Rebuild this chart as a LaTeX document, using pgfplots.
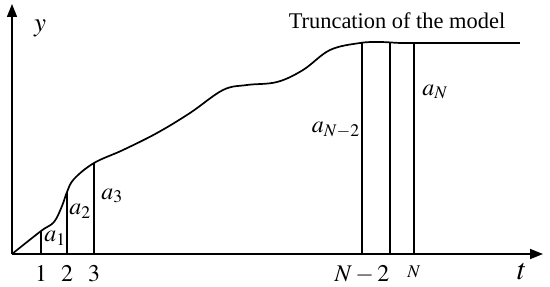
\documentclass[border=0pt]{standalone}
\usepackage{mathptmx}
\usepackage{fontspec}
\setmainfont{Liberation Serif}
\usepackage{pgfplots}
\pgfplotsset{compat=1.18}
\usetikzlibrary{arrows.meta}

\begin{document}
\begin{tikzpicture}
\begin{axis}[
  x=1bp, y=1bp,
  xmin=0, xmax=531, ymin=0, ymax=250,
  axis lines=left,
  axis line style={line width=1.7bp, -{Triangle[length=13bp,width=10bp]}},
  ytick=\empty,
  xtick={29,55,82,350,402},
  xticklabels={$1$,$2$,$3$,$N-2$,{\fontsize{18}{21}\selectfont$N$}},
  major tick length=0pt,
  xticklabel style={font=\fontsize{24}{28}\selectfont, yshift=-8bp},
  clip=false,
]
% response curve
\addplot[smooth, tension=0.6, line width=1.7bp] coordinates {
  (0,0) (29,23) (42,32) (50,48) (55,62) (62,75)
  (82,91) (111,104) (145,121) (178,141)
  (211,164) (235,169) (265,172)
  (291,184) (318,204) (348,211) (368,212) (388,211) (400,211)
};
\addplot[line width=1.7bp] coordinates {(398,211) (508,211)};
% sample ordinates
\addplot[ycomb, line width=1.7bp] coordinates {
  (29,23) (55,62) (82,91) (350,211) (378,212) (402,211)
};
\node[font=\fontsize{27}{31}\selectfont] at (axis cs:28,226) {$y$};
\node[font=\fontsize{30}{34}\selectfont] at (axis cs:510,-18) {$t$};
\node[font=\fontsize{24}{28}\selectfont] at (axis cs:43,16) {$a_1$};
\node[font=\fontsize{24}{28}\selectfont] at (axis cs:68,43) {$a_2$};
\node[font=\fontsize{24}{28}\selectfont] at (axis cs:100,58) {$a_3$};
\node[font=\fontsize{24}{28}\selectfont, anchor=east, inner sep=1bp] at (axis cs:349,124) {$a_{N-2}$};
\node[font=\fontsize{24}{28}\selectfont] at (axis cs:423,162) {$a_N$};
\node[font=\fontsize{22.5}{26}\selectfont, anchor=base] at (axis cs:385,225) {Truncation of the model};
\path (axis cs:-12,-32) (axis cs:538,254);
\end{axis}
\end{tikzpicture}
\end{document}
